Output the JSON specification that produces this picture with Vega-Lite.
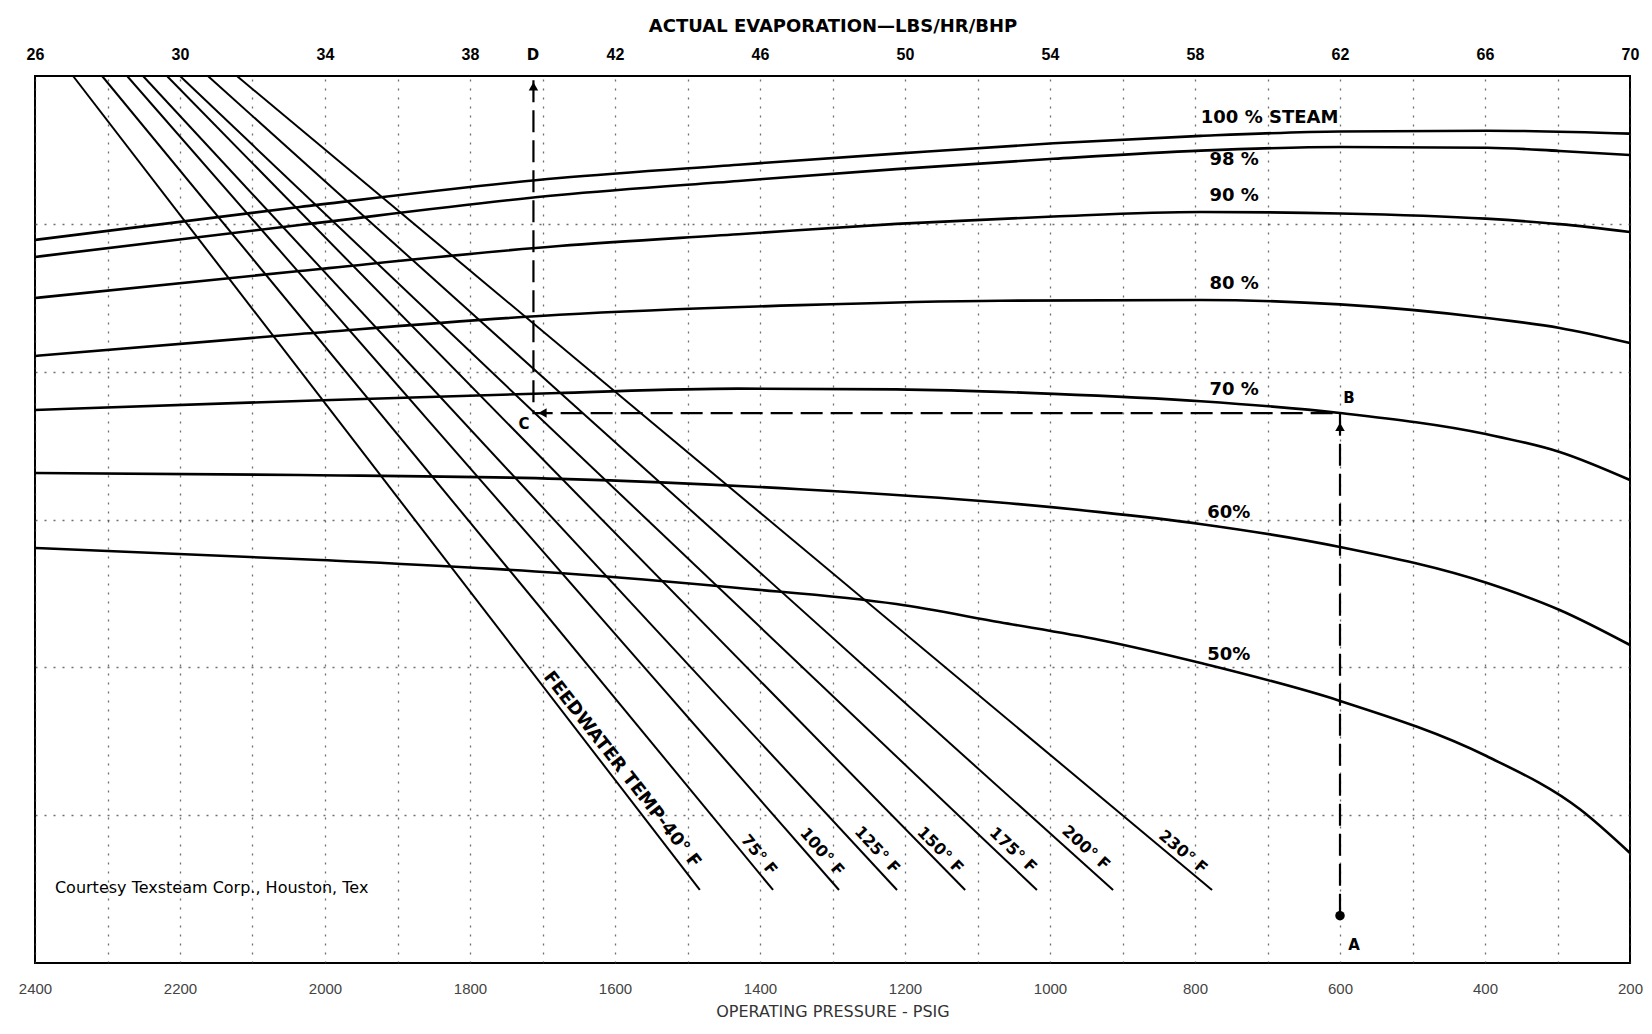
{
  "$schema": "https://vega.github.io/schema/vega-lite/v6.json",
  "width": 1595,
  "height": 887,
  "autosize": {"type": "none"},
  "padding": {"left": 35, "top": 76, "right": 22, "bottom": 71},
  "background": "white",
  "config": {
    "view": {"stroke": "black", "strokeWidth": 2},
    "font": "Liberation Sans"
  },
  "datasets": {
    "quality": [
      {"q": "100", "P": 2400, "y": 48.91}, {"q": "100", "P": 2035, "y": 51.14}, {"q": "100", "P": 1677, "y": 53.10}, {"q": "100", "P": 1430, "y": 54.0}, {"q": "100", "P": 1212, "y": 54.75}, {"q": "100", "P": 995, "y": 55.45}, {"q": "100", "P": 792, "y": 55.95}, {"q": "100", "P": 600, "y": 56.25}, {"q": "100", "P": 397, "y": 56.3}, {"q": "100", "P": 200, "y": 56.1},
      {"q": "98", "P": 2400, "y": 47.76}, {"q": "98", "P": 2035, "y": 49.92}, {"q": "98", "P": 1677, "y": 51.95}, {"q": "98", "P": 1430, "y": 52.9}, {"q": "98", "P": 1212, "y": 53.7}, {"q": "98", "P": 995, "y": 54.4}, {"q": "98", "P": 792, "y": 54.95}, {"q": "98", "P": 600, "y": 55.2}, {"q": "98", "P": 397, "y": 55.15}, {"q": "98", "P": 297, "y": 54.93}, {"q": "98", "P": 200, "y": 54.66},
      {"q": "90", "P": 2400, "y": 44.98}, {"q": "90", "P": 2035, "y": 46.81}, {"q": "90", "P": 1677, "y": 48.5}, {"q": "90", "P": 1430, "y": 49.3}, {"q": "90", "P": 1212, "y": 50.0}, {"q": "90", "P": 995, "y": 50.5}, {"q": "90", "P": 792, "y": 50.8}, {"q": "90", "P": 600, "y": 50.7}, {"q": "90", "P": 399, "y": 50.35}, {"q": "90", "P": 297, "y": 49.98}, {"q": "90", "P": 200, "y": 49.45},
      {"q": "80", "P": 2400, "y": 41.06}, {"q": "80", "P": 2035, "y": 42.55}, {"q": "80", "P": 1677, "y": 43.85}, {"q": "80", "P": 1345, "y": 44.5}, {"q": "80", "P": 1069, "y": 44.8}, {"q": "80", "P": 793, "y": 44.85}, {"q": "80", "P": 600, "y": 44.55}, {"q": "80", "P": 397, "y": 43.63}, {"q": "80", "P": 297, "y": 42.96}, {"q": "80", "P": 200, "y": 41.94},
      {"q": "70", "P": 2400, "y": 37.41}, {"q": "70", "P": 2035, "y": 38.02}, {"q": "70", "P": 1677, "y": 38.56}, {"q": "70", "P": 1430, "y": 38.85}, {"q": "70", "P": 1212, "y": 38.8}, {"q": "70", "P": 995, "y": 38.5}, {"q": "70", "P": 792, "y": 38.0}, {"q": "70", "P": 600, "y": 37.20}, {"q": "70", "P": 399, "y": 35.78}, {"q": "70", "P": 297, "y": 34.57}, {"q": "70", "P": 200, "y": 32.67},
      {"q": "60", "P": 2400, "y": 33.15}, {"q": "60", "P": 2035, "y": 33.01}, {"q": "60", "P": 1676, "y": 32.75}, {"q": "60", "P": 1345, "y": 32.05}, {"q": "60", "P": 1069, "y": 31.15}, {"q": "60", "P": 931, "y": 30.5}, {"q": "60", "P": 793, "y": 29.7}, {"q": "60", "P": 600, "y": 28.14}, {"q": "60", "P": 397, "y": 25.70}, {"q": "60", "P": 297, "y": 23.88}, {"q": "60", "P": 200, "y": 21.51},
      {"q": "50", "P": 2400, "y": 28.07}, {"q": "50", "P": 2006, "y": 27.26}, {"q": "50", "P": 1677, "y": 26.38}, {"q": "50", "P": 1430, "y": 25.37}, {"q": "50", "P": 1212, "y": 24.28}, {"q": "50", "P": 1069, "y": 23.05}, {"q": "50", "P": 931, "y": 21.85}, {"q": "50", "P": 792, "y": 20.29}, {"q": "50", "P": 600, "y": 17.73}, {"q": "50", "P": 398, "y": 14.0}, {"q": "50", "P": 269, "y": 10.4}, {"q": "50", "P": 200, "y": 7.44}
    ],
    "qlabels": [
      {"label": "100 % STEAM", "P": 792, "y": 57.16},
      {"label": "98 %", "P": 780, "y": 54.32},
      {"label": "90 %", "P": 780, "y": 51.88},
      {"label": "80 %", "P": 780, "y": 45.93},
      {"label": "70 %", "P": 780, "y": 38.76},
      {"label": "60%", "P": 783, "y": 30.44},
      {"label": "50%", "P": 783, "y": 20.83}
    ],
    "feed": [
      {"t": "40", "E": 27.05, "y": 60}, {"t": "40", "E": 44.34, "y": 4.94},
      {"t": "75", "E": 27.85, "y": 60}, {"t": "75", "E": 46.36, "y": 4.94},
      {"t": "100", "E": 28.54, "y": 60}, {"t": "100", "E": 48.18, "y": 4.94},
      {"t": "125", "E": 28.98, "y": 60}, {"t": "125", "E": 49.78, "y": 4.94},
      {"t": "150", "E": 29.64, "y": 60}, {"t": "150", "E": 51.66, "y": 4.94},
      {"t": "175", "E": 30.0, "y": 60}, {"t": "175", "E": 53.64, "y": 4.94},
      {"t": "200", "E": 30.77, "y": 60}, {"t": "200", "E": 55.74, "y": 4.94},
      {"t": "230", "E": 31.57, "y": 60}, {"t": "230", "E": 58.47, "y": 4.94}
    ],
    "flabels": [
      {"t": "40", "label": "FEEDWATER TEMP-40° F", "E": 42.19, "y": 13.06},
      {"t": "75", "label": "75° F", "E": 45.97, "y": 7.31},
      {"t": "100", "label": "100° F", "E": 47.71, "y": 7.51},
      {"t": "125", "label": "125° F", "E": 49.23, "y": 7.64},
      {"t": "150", "label": "150° F", "E": 50.97, "y": 7.64},
      {"t": "175", "label": "175° F", "E": 52.98, "y": 7.64},
      {"t": "200", "label": "200° F", "E": 54.99, "y": 7.78},
      {"t": "230", "label": "230° F", "E": 57.67, "y": 7.51}
    ],
    "path": [
      {"o": 1, "E": 62, "y": 3.2},
      {"o": 2, "E": 62, "y": 37.2},
      {"o": 3, "E": 39.75, "y": 37.2},
      {"o": 4, "E": 39.75, "y": 60}
    ],
    "arrows": [
      {"shape": "triangle-up", "E": 62, "y": 36.26},
      {"shape": "triangle-left", "E": 40.0, "y": 37.2},
      {"shape": "triangle-up", "E": 39.75, "y": 59.3},
      {"shape": "circle", "E": 62, "y": 3.2}
    ],
    "letters": [
      {"label": "A", "E": 62.39, "y": 1.22},
      {"label": "B", "E": 62.25, "y": 38.22},
      {"label": "C", "E": 39.49, "y": 36.46},
      {"label": "D", "E": 39.74, "y": 61.42}
    ],
    "note": [
      {"label": "Courtesy Texsteam Corp., Houston, Tex", "E": 26.55, "y": 5.07}
    ]
  },
  "encoding": {
    "y": {
      "field": "y", "type": "quantitative",
      "scale": {"domain": [0, 60], "nice": false, "zero": false},
      "axis": {"values": [10, 20, 30, 40, 50], "labels": false, "ticks": false, "domain": false, "title": null, "grid": true, "gridDash": [2, 7], "gridColor": "#333", "gridWidth": 1.3, "gridOpacity": 0.7}
    }
  },
  "layer": [
    {
      "encoding": {
        "x": {
          "field": "E", "type": "quantitative",
          "scale": {"domain": [26, 70], "nice": false, "zero": false},
          "axis": {
            "orient": "top",
            "values": [26, 28, 30, 32, 34, 36, 38, 40, 42, 44, 46, 48, 50, 52, 54, 56, 58, 60, 62, 64, 66, 68, 70],
            "labelExpr": "(datum.value - 26) % 4 === 0 ? datum.label : ''",
            "format": "d",
            "title": "ACTUAL EVAPORATION—LBS/HR/BHP",
            "grid": true, "gridDash": [2, 7], "gridColor": "#333", "gridWidth": 1.3, "gridOpacity": 0.7,
            "ticks": false, "domain": false,
            "labelFontSize": 16, "labelFontWeight": "bold", "labelColor": "black", "labelPadding": 14, "labelFlush": false,
            "titleFont": "DejaVu Sans", "titleFontSize": 18, "titleFontWeight": "bold", "titleColor": "black", "titlePadding": 11
          }
        }
      },
      "layer": [
        {"data": {"name": "feed"}, "mark": {"type": "line", "color": "black", "strokeWidth": 2}, "encoding": {"detail": {"field": "t", "type": "nominal"}}},
        {"data": {"name": "path"}, "mark": {"type": "line", "color": "black", "strokeWidth": 2.2, "strokeDash": [22, 8]}, "encoding": {"order": {"field": "o", "type": "quantitative"}}},
        {"data": {"name": "arrows"}, "mark": {"type": "point", "filled": true, "color": "black", "size": 90, "opacity": 1}, "encoding": {"shape": {"field": "shape", "type": "nominal", "scale": null}}},
        {"data": {"name": "letters"}, "mark": {"type": "text", "font": "DejaVu Sans", "fontSize": 15, "fontWeight": "bold", "color": "black"}, "encoding": {"text": {"field": "label"}}},
        {"data": {"name": "note"}, "mark": {"type": "text", "font": "DejaVu Sans", "fontSize": 16, "align": "left", "color": "black"}, "encoding": {"text": {"field": "label"}}},
        {"data": {"name": "flabels"}, "transform": [{"filter": "datum.t === '40'"}], "mark": {"type": "text", "angle": 52, "font": "DejaVu Sans", "fontSize": 18, "fontWeight": "bold", "color": "black"}, "encoding": {"text": {"field": "label"}}},
        {"data": {"name": "flabels"}, "transform": [{"filter": "datum.t === '75'"}], "mark": {"type": "text", "angle": 50.5, "font": "DejaVu Sans", "fontSize": 16, "fontWeight": "bold", "color": "black"}, "encoding": {"text": {"field": "label"}}},
        {"data": {"name": "flabels"}, "transform": [{"filter": "datum.t === '100'"}], "mark": {"type": "text", "angle": 49, "font": "DejaVu Sans", "fontSize": 16, "fontWeight": "bold", "color": "black"}, "encoding": {"text": {"field": "label"}}},
        {"data": {"name": "flabels"}, "transform": [{"filter": "datum.t === '125'"}], "mark": {"type": "text", "angle": 47, "font": "DejaVu Sans", "fontSize": 16, "fontWeight": "bold", "color": "black"}, "encoding": {"text": {"field": "label"}}},
        {"data": {"name": "flabels"}, "transform": [{"filter": "datum.t === '150'"}], "mark": {"type": "text", "angle": 45.5, "font": "DejaVu Sans", "fontSize": 16, "fontWeight": "bold", "color": "black"}, "encoding": {"text": {"field": "label"}}},
        {"data": {"name": "flabels"}, "transform": [{"filter": "datum.t === '175'"}], "mark": {"type": "text", "angle": 43.5, "font": "DejaVu Sans", "fontSize": 16, "fontWeight": "bold", "color": "black"}, "encoding": {"text": {"field": "label"}}},
        {"data": {"name": "flabels"}, "transform": [{"filter": "datum.t === '200'"}], "mark": {"type": "text", "angle": 42, "font": "DejaVu Sans", "fontSize": 16, "fontWeight": "bold", "color": "black"}, "encoding": {"text": {"field": "label"}}},
        {"data": {"name": "flabels"}, "transform": [{"filter": "datum.t === '230'"}], "mark": {"type": "text", "angle": 40, "font": "DejaVu Sans", "fontSize": 16, "fontWeight": "bold", "color": "black"}, "encoding": {"text": {"field": "label"}}}
      ]
    },
    {
      "encoding": {
        "x": {
          "field": "P", "type": "quantitative",
          "scale": {"domain": [200, 2400], "reverse": true, "nice": false, "zero": false},
          "axis": {
            "orient": "bottom",
            "values": [2400, 2200, 2000, 1800, 1600, 1400, 1200, 1000, 800, 600, 400, 200],
            "format": "d",
            "title": "OPERATING PRESSURE - PSIG",
            "grid": false, "ticks": false, "domain": false,
            "labelFontSize": 15, "labelColor": "#444", "labelPadding": 18, "labelFlush": false,
            "titleFont": "DejaVu Sans", "titleFontSize": 16, "titleFontWeight": "normal", "titleColor": "#333", "titlePadding": 7
          }
        }
      },
      "layer": [
        {"data": {"name": "quality"}, "mark": {"type": "line", "color": "black", "strokeWidth": 2.6, "interpolate": "monotone"}, "encoding": {"detail": {"field": "q", "type": "nominal"}}},
        {"data": {"name": "qlabels"}, "mark": {"type": "text", "align": "left", "font": "DejaVu Sans", "fontSize": 18, "fontWeight": "bold", "color": "black"}, "encoding": {"text": {"field": "label"}}}
      ]
    }
  ],
  "resolve": {"scale": {"x": "independent"}}
}
